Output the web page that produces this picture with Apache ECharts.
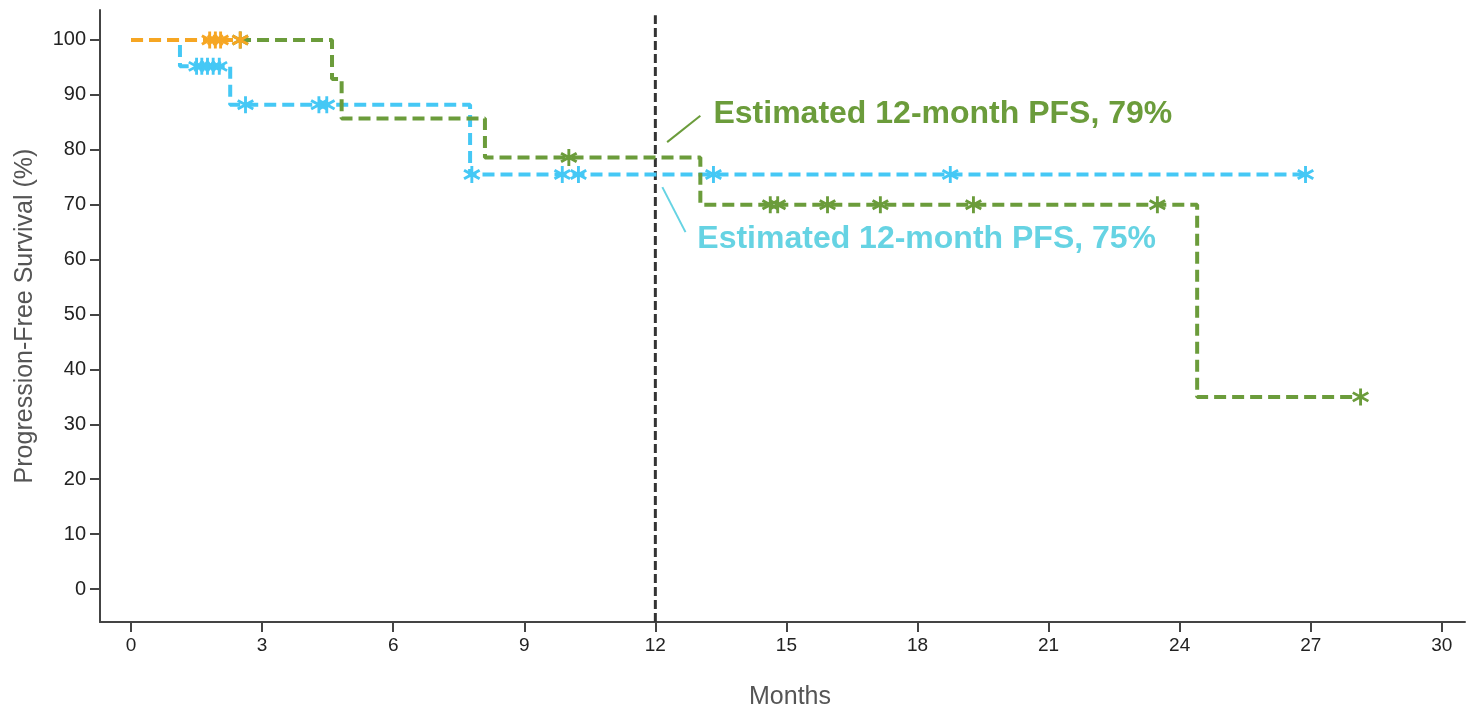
<!DOCTYPE html>
<html>
	<head>
		<meta charset="utf-8">
		<title>PFS</title>
		<script src="https://cdn.jsdelivr.net/npm/echarts@6/dist/echarts.min.js"></script>
	</head>
	<body style="margin:0;">
		<div id="my" style="width: 1466px;height: 711px;"></div>

		<script>
			var myChart = echarts.init(document.getElementById('my'));

			// ticks
			var xTicks = [0, 3, 6, 9, 12, 15, 18, 21, 24, 27, 30];
			var yTicks = [0, 10, 20, 30, 40, 50, 60, 70, 80, 90, 100];

			// Kaplan-Meier steps [month, PFS %]
			var blueSteps = [[0, 100], [1.12, 95.2], [2.27, 88.2], [7.76, 75.5], [26.88, 75.5]];
			var greenSteps = [[0, 100], [4.6, 92.9], [4.82, 85.7], [8.1, 78.6], [13.03, 70.0], [24.4, 35.0], [28.14, 35.0]];
			var orangeSteps = [[0, 100], [2.5, 100]];

			// censor marks [month, PFS %]
			var blueCensor = [[1.5, 95.2], [1.62, 95.2], [1.75, 95.2], [1.88, 95.2], [2.02, 95.2], [2.62, 88.2],
				[4.3, 88.2], [4.48, 88.2], [7.8, 75.5], [9.87, 75.5], [10.24, 75.5], [13.33, 75.5], [18.75, 75.5], [26.88, 75.5]];
			var greenCensor = [[2.5, 100], [10.02, 78.6], [14.63, 70.0], [14.8, 70.0], [15.94, 70.0], [17.15, 70.0],
				[19.28, 70.0], [23.49, 70.0], [28.14, 35.0]];
			var orangeCensor = [[1.8, 100], [1.93, 100], [2.05, 100], [2.5, 100]];

			var cutLine = [[12, -6], [12, 104.5]];

			var blue = '#45c8f5', green = '#6b9c3b', orange = '#f6a623';
			var star = 'path://M42 0 L58 0 L58 100 L42 100 Z M10.7 18.1 L97.3 68.1 L89.3 81.9 L2.7 31.9 Z M10.7 81.9 L2.7 68.1 L89.3 18.1 L97.3 31.9 Z';
			var font = '"Liberation Sans", Arial, sans-serif';

			function km(name, data, color, z) {
				return {
					name: name, type: 'line', step: 'end', data: data, showSymbol: false, z: z,
					lineStyle: {color: color, width: 4, type: [12, 6], cap: 'butt'}
				};
			}
			function cens(name, data, color, z) {
				return {
					name: name, type: 'scatter', data: data, symbol: star, symbolSize: 17, z: z,
					itemStyle: {color: color, opacity: 1}
				};
			}

			var option = {
				animation: false,
				grid: {left: 100, right: 1, top: 10, bottom: 89, outerBoundsMode: 'none'},
				xAxis: {
					type: 'value', min: -0.71, max: 30.53,
					axisLine: {onZero: false, lineStyle: {color: '#444', width: 2}},
					axisTick: {show: true, customValues: xTicks, length: 10, lineStyle: {color: '#444', width: 2}},
					axisLabel: {customValues: xTicks, color: '#222', fontSize: 19, margin: 14, fontFamily: font},
					splitLine: {show: false}
				},
				yAxis: {
					type: 'value', min: -6, max: 105.46,
					axisLine: {show: true, onZero: false, lineStyle: {color: '#444', width: 2}},
					axisTick: {show: true, customValues: yTicks, length: 10, lineStyle: {color: '#444', width: 2}},
					axisLabel: {customValues: yTicks, color: '#222', fontSize: 20, margin: 14, fontFamily: font},
					splitLine: {show: false}
				},
				series: [
					{
						type: 'line', data: cutLine, showSymbol: false, z: 1,
						lineStyle: {color: '#333', width: 3, type: [9, 4]}
					},
					km('blue', blueSteps, blue, 2),
					km('green', greenSteps, green, 3),
					km('orange', orangeSteps, orange, 4),
					cens('blueC', blueCensor, blue, 5),
					cens('greenC', greenCensor, green, 6),
					cens('orangeC', orangeCensor, orange, 7)
				]
			};

			myChart.setOption(option);

			// annotations placed in data coordinates
			function px(p) { return myChart.convertToPixel({gridIndex: 0}, p); }
			var gTxt = px([13.33, 86.5]), bTxt = px([12.96, 63.75]);
			var gL1 = px([12.27, 81.4]), gL2 = px([13.03, 86.2]);
			var bL1 = px([12.16, 73.2]), bL2 = px([12.69, 65.0]);

			myChart.setOption({
				graphic: [
					{type: 'line', shape: {x1: gL1[0], y1: gL1[1], x2: gL2[0], y2: gL2[1]}, style: {stroke: green, lineWidth: 2}},
					{type: 'line', shape: {x1: bL1[0], y1: bL1[1], x2: bL2[0], y2: bL2[1]}, style: {stroke: '#66d3e3', lineWidth: 2}},
					{type: 'text', x: gTxt[0], y: gTxt[1], style: {text: 'Estimated 12-month PFS, 79%', fill: green, font: 'bold 32px ' + font, verticalAlign: 'middle'}},
					{type: 'text', x: bTxt[0], y: bTxt[1], style: {text: 'Estimated 12-month PFS, 75%', fill: '#66d3e3', font: 'bold 32px ' + font, verticalAlign: 'middle'}},
					{type: 'text', x: 790, y: 697, style: {text: 'Months', fill: '#555', font: '25px ' + font, align: 'center', verticalAlign: 'middle'}},
					{type: 'text', x: 25, y: 316, rotation: Math.PI / 2, style: {text: 'Progression-Free Survival (%)', fill: '#555', font: '25px ' + font, align: 'center', verticalAlign: 'middle'}}
				]
			});
		</script>
</body>
</html>
